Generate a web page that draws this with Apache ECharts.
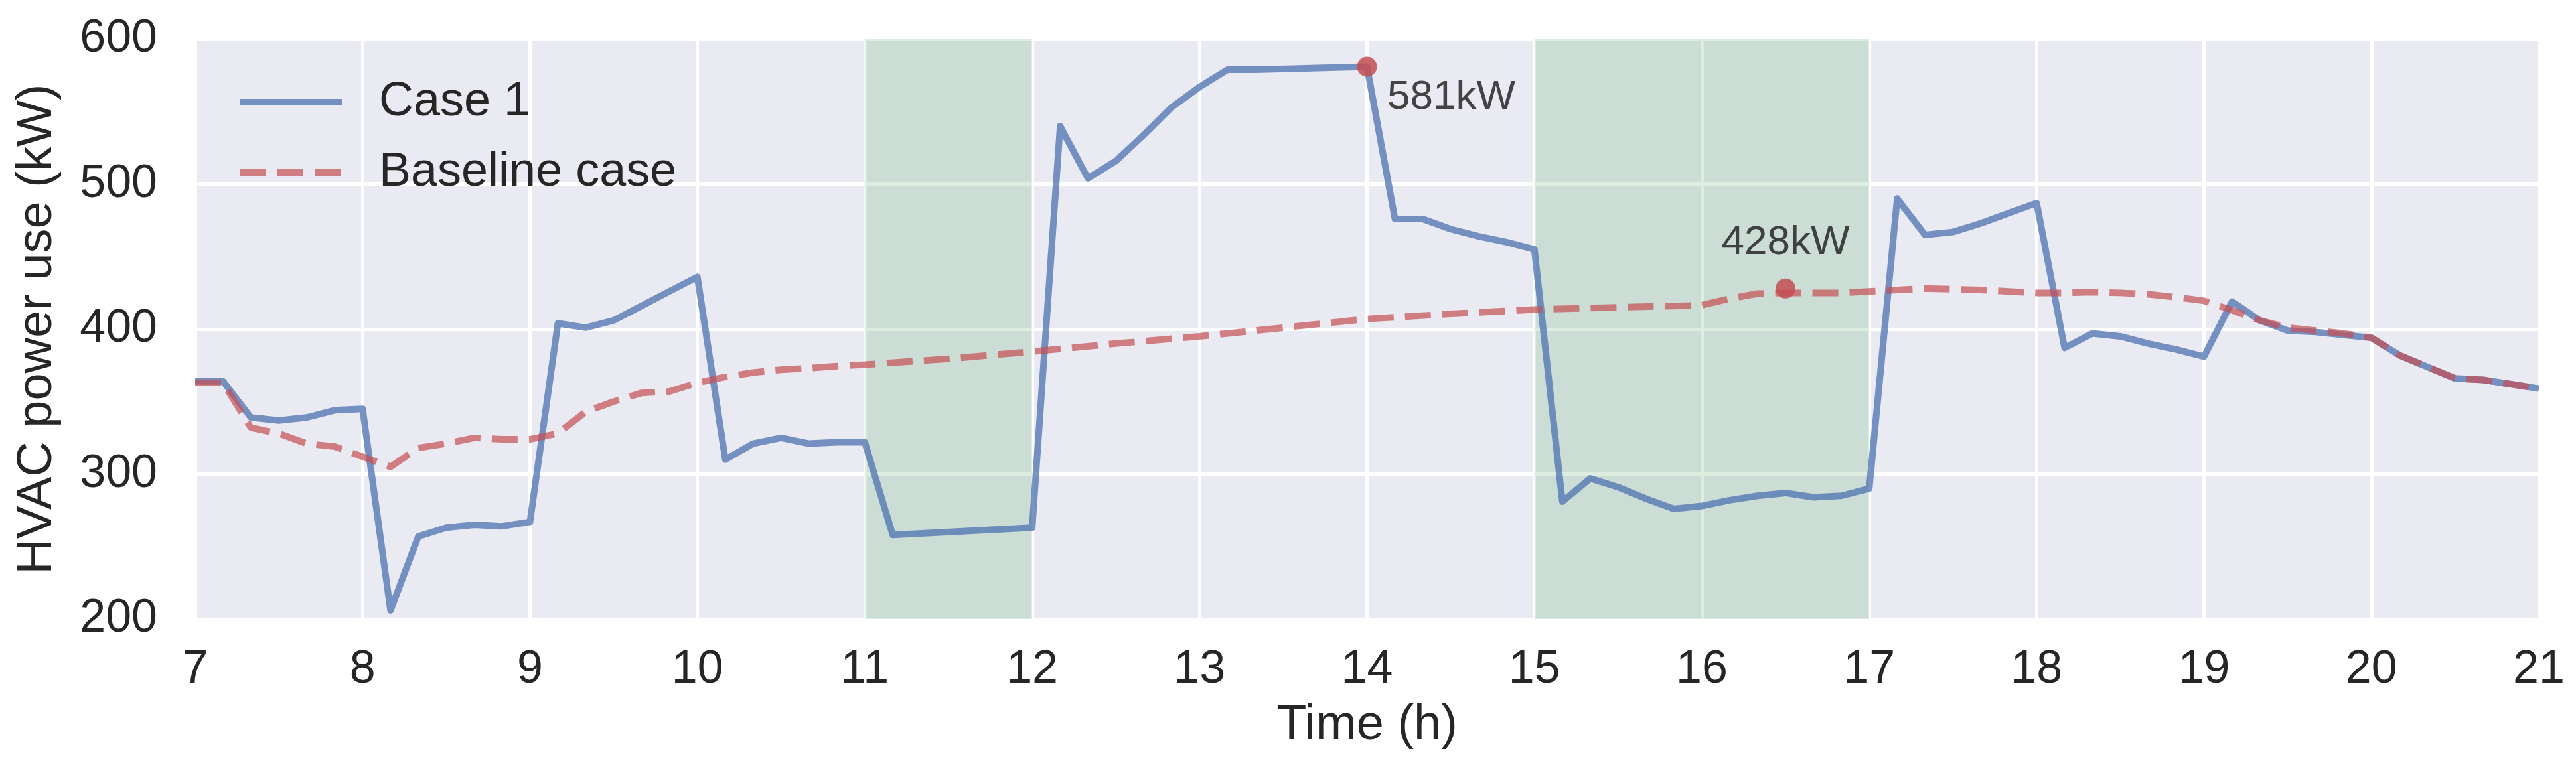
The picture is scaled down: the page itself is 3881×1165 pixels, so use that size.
<!DOCTYPE html>
<html>
<head>
<meta charset="utf-8">
<title>HVAC power use</title>
<script src="https://cdn.jsdelivr.net/npm/echarts@6/dist/echarts.min.js"></script>
<style>
  html, body { margin: 0; padding: 0; background: #fff; }
  #chart { width: 3881px; height: 1165px; }
</style>
</head>
<body>
<div id="chart"></div>
<script>
// 数据：时间(h) 与功率(kW)
var case1 = [
  [7.0, 364], [7.167, 364], [7.333, 339], [7.5, 337], [7.667, 339], [7.833, 344],
  [8.0, 345], [8.167, 206], [8.333, 257], [8.5, 263], [8.667, 265], [8.833, 264],
  [9.0, 267], [9.167, 404], [9.333, 401], [9.5, 406], [9.667, 416], [9.833, 426],
  [10.0, 436], [10.167, 310], [10.333, 321], [10.5, 325], [10.667, 321], [10.833, 322],
  [11.0, 322], [11.167, 258], [12.0, 263],
  [12.167, 540], [12.333, 504], [12.5, 516], [12.667, 534], [12.833, 553],
  [13.0, 567], [13.167, 579], [13.333, 579], [14.0, 581],
  [14.167, 476], [14.333, 476], [14.5, 469], [14.667, 464], [14.833, 460],
  [15.0, 455], [15.167, 281], [15.333, 297], [15.5, 291], [15.667, 283], [15.833, 276],
  [16.0, 278], [16.167, 282], [16.333, 285], [16.5, 287], [16.667, 284], [16.833, 285],
  [17.0, 290], [17.167, 490], [17.333, 465], [17.5, 467], [17.667, 473], [17.833, 480],
  [18.0, 487], [18.167, 387], [18.333, 397], [18.5, 395], [18.667, 390], [18.833, 386],
  [19.0, 381], [19.167, 419], [19.333, 406], [19.5, 399], [19.667, 398], [19.833, 396],
  [20.0, 394], [20.167, 382], [20.333, 374], [20.5, 366], [20.667, 365], [20.833, 362],
  [21.0, 359]
];

var baseline = [
  [7.0, 363], [7.167, 363], [7.333, 332], [7.5, 328], [7.667, 321], [7.833, 319],
  [8.0, 312], [8.167, 305], [8.333, 318], [8.5, 321], [8.667, 325], [8.833, 324],
  [9.0, 324], [9.167, 328], [9.333, 343], [9.5, 350], [9.667, 356], [9.833, 357],
  [10.0, 363], [10.167, 367], [10.333, 370], [10.5, 372], [10.667, 373], [10.833, 374.5],
  [11.0, 375.5], [11.5, 379.5], [12.0, 384.5], [12.5, 390], [13.0, 395], [13.5, 401],
  [14.0, 407], [14.5, 410.5], [15.0, 413.5], [15.5, 415], [16.0, 416.5],
  [16.167, 421], [16.333, 424.5], [16.5, 425], [16.667, 425], [16.833, 425],
  [17.0, 426], [17.167, 427], [17.333, 428], [17.5, 427.5], [17.667, 427], [17.833, 426],
  [18.0, 425], [18.167, 425], [18.333, 425.5], [18.5, 425], [18.667, 424], [18.833, 422],
  [19.0, 419.5], [19.167, 413], [19.333, 406], [19.5, 401], [19.667, 399], [19.833, 397],
  [20.0, 394], [20.167, 382], [20.333, 374], [20.5, 366], [20.667, 365], [20.833, 362],
  [21.0, 359]
];

// 标注点
var peakPoints = [[14, 581], [16.5, 428]];
var peakLabels = ["581kW", "428kW"];

// 阴影时段
var shadedSpans = [[11, 12], [15, 17]];

var seriesNames = ["Case 1", "Baseline case"];

var FONT = "'Liberation Sans', Arial, sans-serif";
var TEXT = "#262626";

var myChart = echarts.init(document.getElementById("chart"), null, { renderer: "canvas" });

var option = {
  backgroundColor: "#ffffff",
  animation: false,
  textStyle: { fontFamily: FONT, color: TEXT },
  grid: {
    left: 294,
    top: 59,
    width: 3531,
    height: 874,
    show: true,
    backgroundColor: "#EAEAF2",
    borderWidth: 0
  },
  legend: {
    orient: "vertical",
    left: 352,
    top: 109,
    itemWidth: 154,
    itemHeight: 10,
    itemGap: 26,
    data: seriesNames,
    itemStyle: { opacity: 0 },
    lineStyle: { width: 10 },
    textStyle: {
      fontFamily: FONT,
      fontSize: 72,
      lineHeight: 80,
      color: TEXT,
      padding: [0, 0, 0, 50]
    }
  },
  xAxis: {
    type: "value",
    min: 7,
    max: 21,
    interval: 1,
    name: "Time (h)",
    nameLocation: "middle",
    nameGap: 124,
    nameTextStyle: { fontFamily: FONT, fontSize: 74, color: TEXT },
    axisLine: { show: false },
    axisTick: { show: false },
    axisLabel: { fontFamily: FONT, fontSize: 70, color: TEXT, margin: 42 },
    splitLine: { show: true, lineStyle: { color: "#ffffff", width: 5 } }
  },
  yAxis: {
    type: "value",
    min: 200,
    max: 600,
    interval: 100,
    name: "HVAC power use (kW)",
    nameLocation: "middle",
    nameGap: 200,
    nameTextStyle: { fontFamily: FONT, fontSize: 74, color: TEXT },
    axisLine: { show: false },
    axisTick: { show: false },
    axisLabel: { fontFamily: FONT, fontSize: 70, color: TEXT, margin: 57 },
    splitLine: { show: true, lineStyle: { color: "#ffffff", width: 5 } }
  },
  series: [
    {
      name: seriesNames[0],
      type: "line",
      data: case1,
      symbol: "none",
      z: 3,
      lineStyle: { color: "#4C72B0", width: 10, opacity: 0.75, join: "round" },
      itemStyle: { color: "#4C72B0", opacity: 0.75 },
      markArea: {
        silent: true,
        itemStyle: { color: "rgba(85,168,104,0.2)" },
        data: shadedSpans.map(function (s) {
          return [{ xAxis: s[0] }, { xAxis: s[1] }];
        })
      }
    },
    {
      name: seriesNames[1],
      type: "line",
      data: baseline,
      symbol: "none",
      z: 4,
      lineStyle: { color: "#C44E52", width: 10, opacity: 0.7, type: [39, 17], cap: "butt" },
      itemStyle: { color: "#C44E52", opacity: 0.7 }
    },
    {
      name: "peaks",
      type: "scatter",
      z: 5,
      symbolSize: 30,
      itemStyle: { color: "#C44E52", opacity: 0.85 },
      data: peakPoints.map(function (p, i) {
        return {
          value: p,
          label: {
            show: true,
            formatter: peakLabels[i],
            position: "inside",
            offset: i === 0 ? [127, 46] : [0, -69],
            fontFamily: FONT,
            fontSize: 62,
            color: TEXT
          }
        };
      })
    }
  ]
};

myChart.setOption(option);
</script>
</body>
</html>
